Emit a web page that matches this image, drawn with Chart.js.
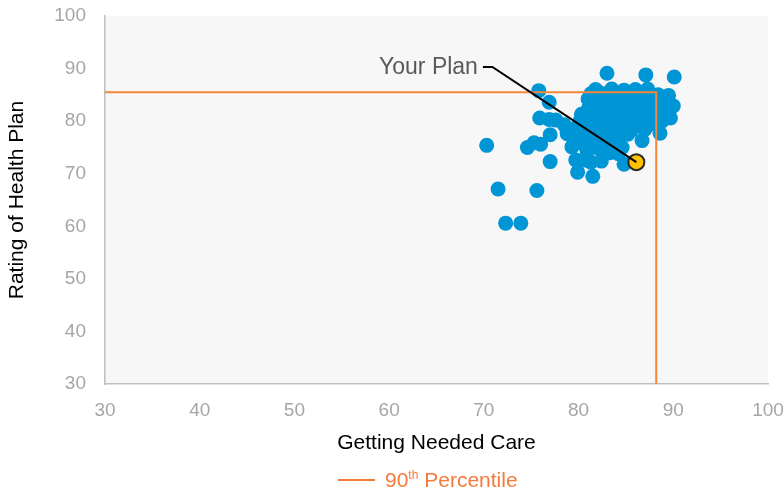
<!DOCTYPE html>
<html>
<head>
<meta charset="utf-8">
<script src="https://cdn.jsdelivr.net/npm/chart.js@4"></script>
<style>
  html, body { margin: 0; padding: 0; background: #ffffff; overflow: hidden; }
  #wrap { position: relative; width: 784px; height: 489px; }
  #legend { position: absolute; left: 338px; top: 469px; height: 22px; display: flex; align-items: center;
            font-family: "Liberation Sans", Arial, sans-serif; font-size: 21px; color: #F47A3A; white-space: nowrap; }
  #legend .swatch { display: inline-block; width: 37px; height: 2px; background: #F47A3A; margin-right: 10px; }
  #legend sup { font-size: 12px; vertical-align: 0; position: relative; top: -8px; }
</style>
</head>
<body>
<div id="wrap">
  <canvas id="c" width="784" height="489"></canvas>
  <div id="legend"><span class="swatch"></span><span>90<sup>th</sup> Percentile</span></div>
</div>
<script>
// ---- data ----
const xTicks = [30, 40, 50, 60, 70, 80, 90, 100];
const yTicks = [30, 40, 50, 60, 70, 80, 90, 100];

const gettingNeededCare = [
  70.3, 71.5, 72.3, 73.9, 74.6, 75.3, 75.6, 75.8, 75.9, 76.0, 76.9, 77.0, 77.0, 76.9, 77.6,
  78.5, 78.8, 79.3, 79.7, 79.9, 79.8, 80.3, 80.5, 80.9, 81.0, 81.5, 81.3, 82.1, 82.4, 82.0,
  83.0, 83.3, 83.6, 84.2, 84.8, 85.2, 86.7, 87.1, 88.6, 90.1, 89.4, 90.0, 89.7, 89.0, 89.5,
  79.6, 78.8, 81.0, 80.5, 81.3,
  81.8, 83.5, 84.8, 86.0, 87.3,
  81.3, 82.4, 83.4, 84.5, 85.4, 86.3, 87.4, 88.4,
  81.0, 82.1, 83.0, 84.0, 85.1, 86.0, 87.0, 88.0, 88.9,
  81.2, 82.2, 83.3, 84.2, 85.2, 86.2, 87.1, 88.2, 89.2,
  81.0, 82.0, 83.0, 84.1, 85.0, 86.0, 87.0, 88.0, 89.0,
  80.6, 81.6, 82.6, 83.6, 84.6, 85.7, 86.6, 87.6, 88.6,
  80.2, 81.2, 82.2, 83.2, 84.2, 85.2, 86.2, 87.5, 88.8,
  80.0, 81.0, 82.0, 83.0, 84.0, 85.0, 86.0, 87.4,
  80.6, 81.6, 82.6, 83.6, 84.6, 85.6, 87.0,
  81.0, 82.0, 83.0, 84.2,
  80.2, 81.8, 82.8,
  80.8, 82.0, 83.2, 84.6
];
const ratingOfHealthPlan = [
  75.4, 67.1, 60.6, 60.6, 75.0, 75.9, 66.8, 85.8, 80.6, 75.6, 83.6, 72.3, 77.4, 80.3, 80.2,
  79.3, 77.9, 75.1, 72.6, 70.3, 78.8, 81.3, 77.0, 74.3, 72.5, 69.5, 76.0, 74.8, 72.4, 78.5,
  89.1, 74.0, 76.2, 73.8, 71.8, 77.5, 76.3, 88.8, 77.7, 88.4, 83.1, 82.9, 80.6, 84.5, 84.9,
  77.0, 77.6, 74.9, 72.6, 72.2,
  86.0, 86.1, 85.9, 86.0, 86.1,
  85.2, 85.3, 85.1, 85.2, 85.3, 85.1, 85.2, 85.0,
  84.2, 84.1, 84.3, 84.2, 84.1, 84.3, 84.2, 84.0, 84.2,
  83.2, 83.3, 83.1, 83.2, 83.3, 83.2, 83.1, 83.2, 83.0,
  82.2, 82.1, 82.3, 82.2, 82.2, 82.1, 82.3, 82.2, 82.0,
  81.2, 81.3, 81.1, 81.2, 81.3, 81.2, 81.1, 81.2, 81.3,
  80.2, 80.1, 80.3, 80.2, 80.1, 80.2, 80.3, 80.2, 80.0,
  79.2, 79.3, 79.1, 79.2, 79.3, 79.2, 79.1, 79.3,
  78.2, 78.1, 78.3, 78.2, 78.1, 78.3, 78.4,
  77.2, 77.1, 77.3, 77.2,
  76.0, 76.1, 76.0,
  75.0, 75.1, 74.9, 75.0
];
const yourPlan = [86.1, 72.2];          // [getting needed care, rating]
const percentile90 = [88.2, 85.5];      // [getting needed care, rating]
const yourPlanLabel = "Your Plan";
const yourPlanLabelAnchor = [69.9, 90.3];
const yourPlanLabelElbow = [70.9, 90.3];

// ---- build datasets ----
const planPoints = gettingNeededCare.map((x, i) => ({ x: x, y: ratingOfHealthPlan[i] }));
const percentileLine = [
  { x: xTicks[0], y: percentile90[1] },
  { x: percentile90[0], y: percentile90[1] },
  { x: percentile90[0], y: yTicks[0] }
];

const FONT = '"Liberation Sans", Arial, sans-serif';

const bgPlugin = {
  id: 'plotBg',
  beforeDraw(chart) {
    const { ctx, chartArea: a } = chart;
    ctx.save();
    ctx.fillStyle = '#F7F7F7';
    ctx.fillRect(a.left, a.top, a.right - a.left, a.bottom - a.top);
    ctx.restore();
  }
};

const leaderPlugin = {
  id: 'leader',
  afterDatasetsDraw(chart) {
    const { ctx, scales: { x, y } } = chart;
    const ax = x.getPixelForValue(yourPlanLabelAnchor[0]);
    const ay = y.getPixelForValue(yourPlanLabelAnchor[1]);
    const ex = x.getPixelForValue(yourPlanLabelElbow[0]);
    const px = x.getPixelForValue(yourPlan[0]);
    const py = y.getPixelForValue(yourPlan[1]);
    ctx.save();
    ctx.strokeStyle = '#000000';
    ctx.lineWidth = 2;
    ctx.beginPath();
    ctx.moveTo(ax, ay);
    ctx.lineTo(ex, ay);
    ctx.lineTo(px, py);
    ctx.stroke();
    ctx.fillStyle = '#595959';
    ctx.font = '23px ' + FONT;
    ctx.textAlign = 'right';
    ctx.textBaseline = 'middle';
    ctx.fillText(yourPlanLabel, ax - 5, ay + 1);
    ctx.restore();
  }
};

new Chart(document.getElementById('c'), {
  type: 'scatter',
  data: {
    datasets: [
      {
        label: '90th Percentile',
        data: percentileLine,
        showLine: true,
        borderColor: '#F4873A',
        backgroundColor: '#F4873A',
        borderWidth: 2,
        pointRadius: 0,
        fill: false,
        order: 0
      },
      {
        label: 'Your Plan',
        data: [{ x: yourPlan[0], y: yourPlan[1] }],
        backgroundColor: '#FFC000',
        borderColor: '#262626',
        borderWidth: 2,
        pointRadius: 8,
        order: 1
      },
      {
        label: 'Plans',
        data: planPoints,
        backgroundColor: '#0096D6',
        borderColor: '#0096D6',
        borderWidth: 0,
        pointRadius: 7.5,
        order: 2
      }
    ]
  },
  options: {
    responsive: false,
    animation: false,
    events: [],
    layout: { padding: { left: 0, right: 16, top: 16, bottom: 25 } },
    plugins: {
      legend: { display: false },
      tooltip: { enabled: false }
    },
    scales: {
      x: {
        type: 'linear',
        min: 30, max: 100,
        afterFit(s) { s.height = 80; s.paddingLeft = 0; s.paddingRight = 0; },
        afterBuildTicks(s) { s.ticks = xTicks.map(v => ({ value: v })); },
        grid: { display: false, drawTicks: false },
        border: { display: true, color: '#BFBFBF', width: 1.5 },
        ticks: { color: '#A6A6A6', font: { family: FONT, size: 19 }, padding: 15 },
        title: { display: true, text: 'Getting Needed Care', color: '#000000',
                 font: { family: FONT, size: 21 }, padding: { top: 0, bottom: 8 } }
      },
      y: {
        type: 'linear',
        min: 30, max: 100,
        afterFit(s) { s.width = 105; s.paddingTop = 0; s.paddingBottom = 0; },
        afterBuildTicks(s) { s.ticks = yTicks.map(v => ({ value: v })); },
        grid: { display: false, drawTicks: false },
        border: { display: true, color: '#BFBFBF', width: 1.5 },
        ticks: { color: '#A6A6A6', font: { family: FONT, size: 19 }, padding: 19 },
        title: { display: true, text: 'Rating of Health Plan', color: '#000000',
                 font: { family: FONT, size: 21 }, padding: { top: 5, bottom: 0 } }
      }
    }
  },
  plugins: [bgPlugin, leaderPlugin]
});
</script>
</body>
</html>
